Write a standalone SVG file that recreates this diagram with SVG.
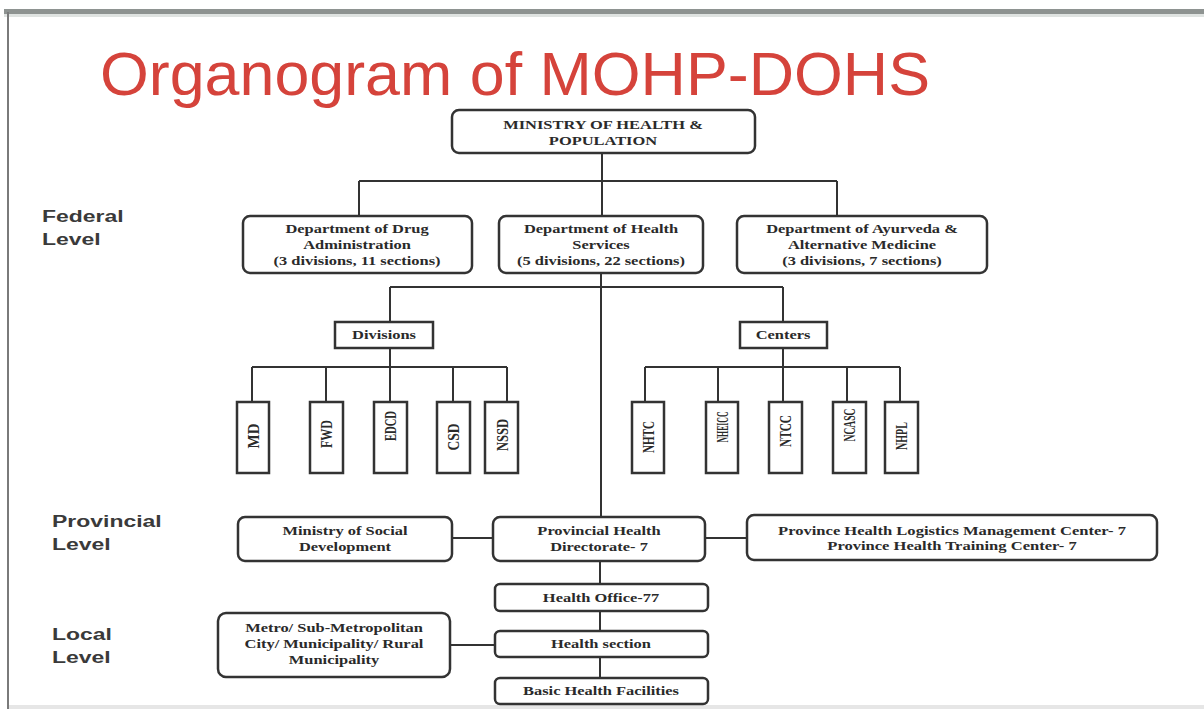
<svg xmlns="http://www.w3.org/2000/svg" width="1204" height="709" viewBox="0 0 1204 709">
<defs>
<style>
.bx{fill:#fff;stroke:#333;stroke-width:2.5}
.cn line{stroke:#333;stroke-width:2}
.t{font-family:"Liberation Serif","Times New Roman",serif;font-weight:bold;font-size:12px;fill:#2a2a2a;text-anchor:middle}
.v{font-family:"Liberation Serif","Times New Roman",serif;font-weight:bold;font-size:13px;fill:#2a2a2a;text-anchor:middle}
.lv{font-family:"Liberation Sans",Arial,sans-serif;font-weight:bold;font-size:17px;fill:#3a3a3a}
.title{font-family:"Liberation Sans",Arial,sans-serif;font-size:62px;fill:#d5433b}
</style>
</defs>
<rect x="0" y="0" width="1204" height="709" fill="#fff"/>
<!-- frame -->
<rect x="4" y="9" width="1200" height="5" fill="#8e9391"/>
<rect x="4" y="14" width="1200" height="3" fill="#dfe3e1"/>
<rect x="7" y="12" width="2" height="697" fill="#7a7a7a"/>
<rect x="9" y="705" width="1195" height="4" fill="#e6e6e6"/>
<text class="title" x="100" y="95" textLength="830" lengthAdjust="spacingAndGlyphs">Organogram of MOHP-DOHS</text>

<!-- level labels -->
<g id="levels">
<text class="lv" transform="translate(42,222) scale(1.35,1)">Federal</text>
<text class="lv" transform="translate(42,245) scale(1.35,1)">Level</text>
<text class="lv" transform="translate(52,527) scale(1.35,1)">Provincial</text>
<text class="lv" transform="translate(52,550) scale(1.35,1)">Level</text>
<text class="lv" transform="translate(52,640) scale(1.35,1)">Local</text>
<text class="lv" transform="translate(52,663) scale(1.35,1)">Level</text>
</g>

<!-- connectors -->
<g id="connectors" class="cn">
<line x1="602" y1="153" x2="602" y2="216"/>
<line x1="359" y1="181" x2="837" y2="181"/>
<line x1="359" y1="181" x2="359" y2="216"/>
<line x1="837" y1="181" x2="837" y2="216"/>
<line x1="601" y1="273" x2="601" y2="517"/>
<line x1="390" y1="287" x2="783" y2="287"/>
<line x1="390" y1="287" x2="390" y2="322"/>
<line x1="390" y1="348" x2="390" y2="367"/>
<line x1="252" y1="367" x2="507" y2="367"/>
<line x1="252" y1="367" x2="252" y2="402"/>
<line x1="326" y1="367" x2="326" y2="402"/>
<line x1="390" y1="367" x2="390" y2="402"/>
<line x1="453" y1="367" x2="453" y2="402"/>
<line x1="507" y1="367" x2="507" y2="402"/>
<line x1="783" y1="287" x2="783" y2="322"/>
<line x1="783" y1="348" x2="783" y2="367"/>
<line x1="645" y1="367" x2="900" y2="367"/>
<line x1="645" y1="367" x2="645" y2="402"/>
<line x1="718" y1="367" x2="718" y2="402"/>
<line x1="783" y1="367" x2="783" y2="402"/>
<line x1="847" y1="367" x2="847" y2="402"/>
<line x1="900" y1="367" x2="900" y2="402"/>
<line x1="452" y1="538" x2="493" y2="538"/>
<line x1="705" y1="538" x2="747" y2="538"/>
<line x1="600" y1="561" x2="600" y2="584"/>
<line x1="600" y1="611" x2="600" y2="631"/>
<line x1="600" y1="657" x2="600" y2="678"/>
<line x1="450" y1="645" x2="495" y2="645"/>
</g>

<g id="mohp">
<rect class="bx" x="452" y="110" width="303" height="43" rx="7"/>
<text class="t" transform="translate(603,129) scale(1.37,1)">MINISTRY OF HEALTH &amp;</text>
<text class="t" transform="translate(603,145) scale(1.37,1)">POPULATION</text>
</g>
<g id="dda">
<rect class="bx" x="243" y="216" width="229" height="57" rx="7"/>
<text class="t" transform="translate(357,233) scale(1.37,1)">Department of Drug</text>
<text class="t" transform="translate(357,249) scale(1.37,1)">Administration</text>
<text class="t" transform="translate(357,265) scale(1.37,1)">(3 divisions, 11 sections)</text>
</g>
<g id="dohs">
<rect class="bx" x="499" y="216" width="204" height="57" rx="7"/>
<text class="t" transform="translate(601,233) scale(1.37,1)">Department of Health</text>
<text class="t" transform="translate(601,249) scale(1.37,1)">Services</text>
<text class="t" transform="translate(601,265) scale(1.37,1)">(5 divisions, 22 sections)</text>
</g>
<g id="dam">
<rect class="bx" x="737" y="216" width="250" height="57" rx="7"/>
<text class="t" transform="translate(862,233) scale(1.37,1)">Department of Ayurveda  &amp;</text>
<text class="t" transform="translate(862,249) scale(1.37,1)">Alternative Medicine</text>
<text class="t" transform="translate(862,265) scale(1.37,1)">(3 divisions, 7 sections)</text>
</g>

<g id="divisions">
<rect class="bx" x="335" y="322" width="98" height="26"/>
<text class="t" transform="translate(384,339) scale(1.37,1)">Divisions</text>
</g>
<g id="centers">
<rect class="bx" x="740" y="322" width="87" height="26"/>
<text class="t" transform="translate(783,339) scale(1.37,1)">Centers</text>
</g>

<g id="md"><rect class="bx" x="237" y="402" width="32" height="71"/>
<text class="v" transform="translate(253,436) scale(1.3,1) rotate(-90)" y="4.3" textLength="25" lengthAdjust="spacingAndGlyphs">MD</text></g>
<g id="fwd"><rect class="bx" x="310" y="402" width="33" height="71"/>
<text class="v" transform="translate(326,434) scale(1.3,1) rotate(-90)" y="4.3" textLength="28" lengthAdjust="spacingAndGlyphs">FWD</text></g>
<g id="edcd"><rect class="bx" x="374" y="402" width="33" height="71"/>
<text class="v" transform="translate(390,426) scale(1.3,1) rotate(-90)" y="4.3" textLength="30" lengthAdjust="spacingAndGlyphs">EDCD</text></g>
<g id="csd"><rect class="bx" x="437" y="402" width="33" height="71"/>
<text class="v" transform="translate(453,437) scale(1.3,1) rotate(-90)" y="4.3" textLength="27" lengthAdjust="spacingAndGlyphs">CSD</text></g>
<g id="nssd"><rect class="bx" x="485" y="402" width="33" height="71"/>
<text class="v" transform="translate(502,435) scale(1.3,1) rotate(-90)" y="4.3" textLength="32" lengthAdjust="spacingAndGlyphs">NSSD</text></g>

<g id="nhtc"><rect class="bx" x="632" y="402" width="32" height="71"/>
<text class="v" transform="translate(648,437) scale(1.3,1) rotate(-90)" y="4.3" textLength="32" lengthAdjust="spacingAndGlyphs">NHTC</text></g>
<g id="nheicc"><rect class="bx" x="706" y="402" width="32" height="71"/>
<text class="v" transform="translate(722,427) scale(1.3,1) rotate(-90)" y="4.3" textLength="31" lengthAdjust="spacingAndGlyphs">NHEICC</text></g>
<g id="ntcc"><rect class="bx" x="769" y="402" width="33" height="71"/>
<text class="v" transform="translate(785,431) scale(1.3,1) rotate(-90)" y="4.3" textLength="32" lengthAdjust="spacingAndGlyphs">NTCC</text></g>
<g id="ncasc"><rect class="bx" x="833" y="402" width="33" height="71"/>
<text class="v" transform="translate(849,425) scale(1.3,1) rotate(-90)" y="4.3" textLength="33" lengthAdjust="spacingAndGlyphs">NCASC</text></g>
<g id="nhpl"><rect class="bx" x="885" y="402" width="33" height="71"/>
<text class="v" transform="translate(901,436) scale(1.3,1) rotate(-90)" y="4.3" textLength="28" lengthAdjust="spacingAndGlyphs">NHPL</text></g>

<g id="mosd">
<rect class="bx" x="238" y="517" width="214" height="44" rx="7"/>
<text class="t" transform="translate(345,535) scale(1.37,1)">Ministry of Social</text>
<text class="t" transform="translate(345,551) scale(1.37,1)">Development</text>
</g>
<g id="phd">
<rect class="bx" x="493" y="517" width="212" height="44" rx="7"/>
<text class="t" transform="translate(599,535) scale(1.37,1)">Provincial Health</text>
<text class="t" transform="translate(599,551) scale(1.37,1)">Directorate- 7</text>
</g>
<g id="phlmc">
<rect class="bx" x="747" y="515" width="410" height="45" rx="7"/>
<text class="t" transform="translate(952,535) scale(1.38,1)">Province Health Logistics Management Center- 7</text>
<text class="t" transform="translate(952,550) scale(1.38,1)">Province Health Training Center- 7</text>
</g>

<g id="health-office">
<rect class="bx" x="495" y="584" width="213" height="27" rx="5"/>
<text class="t" transform="translate(601,602) scale(1.37,1)">Health Office-77</text>
</g>
<g id="metro">
<rect class="bx" x="218" y="613" width="232" height="64" rx="8"/>
<text class="t" transform="translate(334,632) scale(1.37,1)">Metro/ Sub-Metropolitan</text>
<text class="t" transform="translate(334,648) scale(1.37,1)">City/ Municipality/ Rural</text>
<text class="t" transform="translate(334,664) scale(1.37,1)">Municipality</text>
</g>
<g id="health-section">
<rect class="bx" x="495" y="631" width="213" height="26" rx="5"/>
<text class="t" transform="translate(601,648) scale(1.37,1)">Health section</text>
</g>
<g id="bhf">
<rect class="bx" x="495" y="678" width="213" height="26" rx="5"/>
<text class="t" transform="translate(601,695) scale(1.37,1)">Basic Health Facilities</text>
</g>
</svg>
